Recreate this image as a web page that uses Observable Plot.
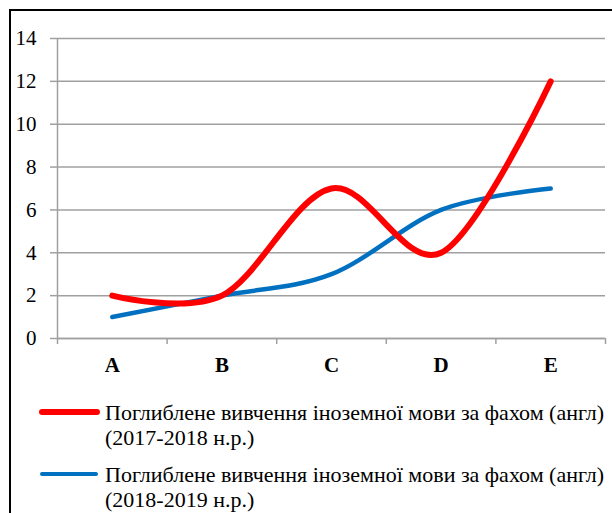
<!DOCTYPE html>
<html>
<head>
<meta charset="utf-8">
<script src="https://cdn.jsdelivr.net/npm/d3@7"></script>
<script src="https://cdn.jsdelivr.net/npm/@observablehq/plot@0.6"></script>
<style>
  html, body { margin: 0; padding: 0; background: #fff; width: 612px; height: 513px; overflow: hidden; }
  #frame { position: absolute; left: 9px; top: 9px; width: 620px; height: 600px; border-left: 2px solid #000; border-top: 2px solid #000; }
  #chart { position: absolute; left: 0; top: 0; }
  #legend { position: absolute; left: 0; top: 400px; font-family: "Liberation Serif", "Times New Roman", serif; font-size: 22px; color: #000; }
  .item { position: absolute; left: 0; white-space: nowrap; line-height: 25px; }
  .swatch { position: absolute; border-radius: 3px; }
  .label { position: absolute; left: 105px; }
</style>
</head>
<body>
<div id="frame"></div>
<div id="chart"></div>
<div id="legend"></div>
<script>
const categories = ["A", "B", "C", "D", "E"];
const values2017 = [2, 2, 7, 4, 12];
const values2018 = [1, 2, 3, 6, 7];
const yTicks = [0, 2, 4, 6, 8, 10, 12, 14];
const seriesNames = [
  "Поглиблене вивчення іноземної мови за фахом (англ)",
  "Поглиблене вивчення іноземної мови за фахом (англ)"
];
const seriesYears = ["(2017-2018 н.р.)", "(2018-2019 н.р.)"];
const seriesColors = ["#ff0000", "#0070c0"];

const rows2017 = categories.map((c, i) => ({i, cat: c, value: values2017[i]}));
const rows2018 = categories.map((c, i) => ({i, cat: c, value: values2018[i]}));
const gridColor = "#a0a0a0";

const plot = Plot.plot({
  width: 612,
  height: 385,
  marginLeft: 57,
  marginRight: 7,
  marginTop: 38,
  marginBottom: 47,
  x: {type: "linear", domain: [0, categories.length]},
  y: {domain: [0, 14]},
  style: {fontFamily: "'Liberation Serif', 'Times New Roman', serif", fontSize: "21px", color: "#000", background: "transparent", overflow: "visible"},
  marks: [
    Plot.gridY(yTicks, {stroke: gridColor, strokeOpacity: 1, strokeWidth: 1.5}),
    Plot.ruleX([0], {stroke: gridColor, strokeWidth: 1.5}),
    Plot.axisY({ticks: yTicks, tickSize: 7, tickPadding: 14, stroke: gridColor, strokeWidth: 1.5, strokeOpacity: 1, fontSize: 21, label: null}),
    Plot.axisX({ticks: d3.range(0, categories.length + 1), tickSize: 6, tickFormat: () => "", stroke: gridColor, strokeWidth: 1.5, strokeOpacity: 1, label: null}),
    Plot.ruleY([0], {stroke: gridColor, strokeWidth: 1.5}),
    Plot.axisX({ticks: categories.map((_, i) => i + 0.5), tickSize: 0, tickPadding: 19, tickFormat: t => categories[Math.floor(t)], fontWeight: "bold", fontSize: 21, label: null}),
    Plot.line(rows2018, {x: d => d.i + 0.5, y: "value", stroke: seriesColors[1], strokeWidth: 4.5, curve: "cardinal", strokeLinecap: "round"}),
    Plot.line(rows2017, {x: d => d.i + 0.5, y: "value", stroke: seriesColors[0], strokeWidth: 6, curve: "cardinal", strokeLinecap: "round"})
  ]
});
document.getElementById("chart").appendChild(plot);

const legend = document.getElementById("legend");
const swatchSpec = [
  {left: 39, width: 61, height: 6.5, top: 8.5},
  {left: 40, width: 58, height: 4.5, top: 9.5}
];
seriesNames.forEach((name, k) => {
  const item = document.createElement("div");
  item.className = "item";
  item.style.top = (k * 62) + "px";
  const sw = document.createElement("div");
  sw.className = "swatch";
  sw.style.background = seriesColors[k];
  sw.style.left = swatchSpec[k].left + "px";
  sw.style.width = swatchSpec[k].width + "px";
  sw.style.height = swatchSpec[k].height + "px";
  sw.style.top = swatchSpec[k].top + "px";
  const lab = document.createElement("div");
  lab.className = "label";
  lab.appendChild(document.createTextNode(name));
  lab.appendChild(document.createElement("br"));
  lab.appendChild(document.createTextNode(seriesYears[k]));
  item.appendChild(sw);
  item.appendChild(lab);
  legend.appendChild(item);
});
</script>
</body>
</html>
